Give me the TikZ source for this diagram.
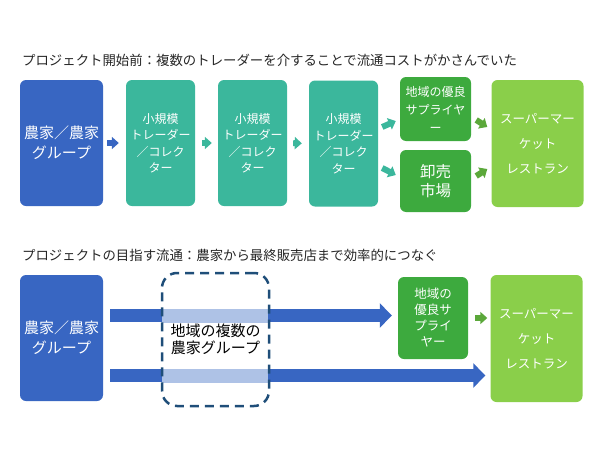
\documentclass[tikz,border=0pt]{standalone}
\usepackage{fontspec}
\setmainfont{Noto Sans CJK JP}
\usepackage{tikz}
\usetikzlibrary{arrows.meta}

\definecolor{farmblue}{HTML}{3866C2}
\definecolor{tradeteal}{HTML}{3BB79C}
\definecolor{supgreen}{HTML}{3DAA3E}
\definecolor{retgreen}{HTML}{8ACF4A}
\definecolor{arrgreen}{HTML}{5BA83A}
\definecolor{barlight}{HTML}{AEC2E6}
\definecolor{dashblue}{HTML}{1F4E79}

\tikzset{
  box/.style={rounded corners=6pt, text=white, align=center, inner sep=0pt},
  farmbox/.style={box, fill=farmblue, minimum width=83pt, minimum height=126pt, font=\fontsize{15}{20}\selectfont},
  tradebox/.style={box, fill=tradeteal, minimum width=69pt, minimum height=126pt, font=\fontsize{12}{16.5}\selectfont},
  supbox/.style={box, fill=supgreen, minimum width=71pt},
  retbox/.style={box, fill=retgreen, minimum width=92pt, minimum height=127pt, font=\fontsize{12.5}{25}\selectfont},
  smallarr/.style={line width=6pt, -{Triangle[width=12pt,length=7pt]}},
  bigarr/.style={draw=farmblue, line width=13.5pt, -{Triangle[width=24pt,length=12pt]}},
  title/.style={anchor=west, text=black!85, font=\fontsize{13.4}{16}\selectfont, inner sep=0pt}
}

\begin{document}
\begin{tikzpicture}[x=1pt,y=-1pt]
\useasboundingbox (0,0) rectangle (600,450);

\node[title] (head1) at (22,60) {プロジェクト開始前：複数のトレーダーを介することで流通コストがかさんでいた};

\node[farmbox] (farm1) at (61.5,143) {農家／農家\\グループ};
\node[tradebox] (t1) at (160.5,143) {小規模\\トレーダー\\／コレク\\ター};
\node[tradebox] (t2) at (252.5,143) {小規模\\トレーダー\\／コレク\\ター};
\node[tradebox] (t3) at (343.5,143.5) {小規模\\トレーダー\\／コレク\\ター};
\node[supbox, minimum height=64pt, font=\fontsize{12}{18}\selectfont] (sup1) at (435.5,109) {地域の優良\\サプライヤ\\ー};
\node[supbox, minimum height=62pt, font=\fontsize{15.5}{19}\selectfont] (whs) at (435.5,181) {卸売\\市場};
\node[retbox] (ret1) at (537.5,143.5) {スーパーマー\\ケット\\レストラン};

\draw[smallarr, farmblue, shorten <=4pt, shorten >=7pt] (farm1.east) -- (t1.west);
\draw[smallarr, tradeteal, shorten <=7pt, shorten >=6pt] (t1.east) -- (t2.west);
\draw[smallarr, tradeteal, shorten <=6pt, shorten >=7pt] (t2.east) -- (t3.west);
\draw[smallarr, tradeteal] ([xshift=4pt,yshift=16.5pt]t3.east) -- ([xshift=-4pt,yshift=-12pt]sup1.west);
\draw[smallarr, tradeteal] ([xshift=4pt,yshift=-24.5pt]t3.east) -- ([xshift=-4pt,yshift=6pt]whs.west);
\draw[smallarr, arrgreen] ([xshift=5pt,yshift=-11pt]sup1.east) -- ([xshift=-4pt,yshift=16.5pt]ret1.west);
\draw[smallarr, arrgreen] ([xshift=5pt,yshift=5pt]whs.east) -- ([xshift=-4pt,yshift=-25.5pt]ret1.west);

\node[title] (head2) at (22,255) {プロジェクトの目指す流通：農家から最終販売店まで効率的につなぐ};

\node[farmbox] (farm2) at (61.5,338) {農家／農家\\グループ};
\node[supbox, minimum width=70pt, minimum height=82pt, font=\fontsize{12.5}{16}\selectfont] (sup2) at (433,318) {地域の\\優良サ\\プライ\\ヤー};
\node[retbox] (ret2) at (536.5,338.5) {スーパーマー\\ケット\\レストラン};

\draw[bigarr, shorten >=6pt] ([xshift=7pt,yshift=22.5pt]farm2.east) coordinate (bar1) -- (bar1 -| sup2.west);
\draw[bigarr, shorten >=5pt] ([xshift=7pt,yshift=-37.5pt]farm2.east) coordinate (bar2) -- (bar2 -| ret2.west);
\fill[barlight] (162,309) rectangle (268,322.5);
\fill[barlight] (162,369) rectangle (268,382.5);

\node[draw=dashblue, line width=2.5pt, dash pattern=on 9pt off 6pt, rounded corners=15pt, minimum width=107pt, minimum height=133pt, align=center, font=\fontsize{15}{17}\selectfont] (grp) at (215.5,339.5) {地域の複数の\\農家グループ};

\draw[smallarr, arrgreen, shorten <=7pt, shorten >=3pt] (sup2.east) -- (sup2.east -| ret2.west);
\end{tikzpicture}
\end{document}
